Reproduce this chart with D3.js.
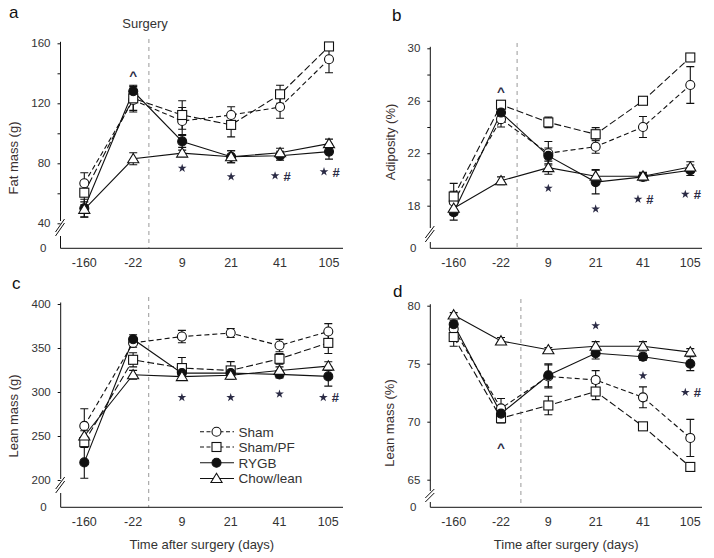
<!DOCTYPE html>
<html><head><meta charset="utf-8">
<script src="https://cdn.jsdelivr.net/npm/d3@7"></script>
<style>
html,body{margin:0;padding:0;background:#fff;}
svg{display:block;font-family:"Liberation Sans",Arial,sans-serif;}
</style></head>
<body>
<svg id="chart" width="714" height="558"></svg>
<script>
// ---------------- DATA ----------------
const categories = ["-160", "-22", "9", "21", "41", "105"];
const seriesNames = ["Sham", "Sham/PF", "RYGB", "Chow/lean"];

// a: Fat mass (g)
const fatSham      = [66.7, 122.2, 108.2, 112.2, 117.5, 149.4];
const fatShamErr   = [7, 8, 9, 5.5, 7.5, 9];
const fatShamPF    = [60.4, 123.3, 112.2, 105.6, 126.0, 157.9];
const fatShamPFErr = [8, 8, 9.5, 8, 6, 2];
const fatRYGB      = [50.0, 128.0, 94.6, 84.4, 85.0, 87.8];
const fatRYGBErr   = [6, 4, 4, 4, 3, 5];
const fatChow      = [49.3, 83.0, 86.8, 84.4, 87.0, 93.1];
const fatChowErr   = [5, 4, 2, 4, 3, 3];
const fatTicks = [40, 60, 80, 100, 120, 140, 160];
const fatTickLabels = [40, 80, 120, 160];
const fatNotes = [["-22", 140.9, "^"], ["9", 76.7, "*"], ["21", 71.1, "*"], ["41", 71.7, "* #"], ["105", 74.4, "* #"]];

// b: Adiposity (%)
const adiSham      = [18.3, 24.6, 22.0, 22.5, 24.0, 27.2];
const adiShamErr   = [0.8, 0.6, 0.9, 0.5, 0.8, 1.4];
const adiShamPF    = [18.7, 25.7, 24.35, 23.45, 26.0, 29.3];
const adiShamPFErr = [1.0, 0.3, 0.4, 0.5, 0.2, 0.3];
const adiRYGB      = [17.5, 25.1, 21.8, 19.8, 20.2, 20.7];
const adiRYGBErr   = [0.6, 0.5, 0.6, 0.9, 0.3, 0.4];
const adiChow      = [17.8, 19.9, 20.9, 20.25, 20.25, 20.95];
const adiChowErr   = [0.5, 0.3, 0.5, 0.5, 0.3, 0.4];
const adiTicks = [18, 20, 22, 24, 26, 28, 30];
const adiTickLabels = [18, 22, 26, 30];
const adiNotes = [["-22", 27.0, "^"], ["9", 19.33, "*"], ["21", 17.75, "*"], ["41", 18.5, "* #"], ["105", 18.87, "* #"]];

// c: Lean mass (g)
const lgSham      = [261.5, 355.8, 363.0, 367.0, 352.8, 368.7];
const lgShamErr   = [19.5, 5, 7, 5, 7, 9];
const lgShamPF    = [243.0, 336.6, 327.2, 324.5, 337.7, 355.8];
const lgShamPFErr = [6, 8, 12, 10, 6, 12];
const lgRYGB      = [220.0, 360.0, 321.5, 321.5, 320.0, 317.7];
const lgRYGBErr   = [18, 5, 3, 3, 4, 11];
const lgChow      = [250.0, 319.6, 317.5, 319.0, 324.5, 329.4];
const lgChowErr   = [6, 5, 4, 4, 4, 5];
const lgTicks = [200, 250, 300, 350, 400];
const lgTickLabels = [200, 250, 300, 350, 400];
const lgNotes = [["9", 293.7, "*"], ["21", 293.7, "*"], ["41", 297.7, "*"], ["105", 293.7, "* #"]];

// d: Lean mass (%)
const lpSham      = [78.0, 71.15, 73.9, 73.6, 72.1, 68.6];
const lpShamErr   = [0.5, 0.85, 1.0, 0.8, 0.9, 1.6];
const lpShamPF    = [77.3, 70.3, 71.4, 72.6, 69.6, 66.1];
const lpShamPFErr = [0.8, 0.4, 0.8, 0.7, 0.2, 0.3];
const lpRYGB      = [78.4, 70.7, 74.0, 75.9, 75.6, 75.0];
const lpRYGBErr   = [0.3, 0.5, 1.0, 0.5, 0.3, 0.6];
const lpChow      = [79.2, 76.96, 76.2, 76.5, 76.5, 76.0];
const lpChowErr   = [0.2, 0.3, 0.2, 0.4, 0.4, 0.3];
const lpTicks = [65, 70, 75, 80];
const lpTickLabels = [65, 70, 75, 80];
const lpNotes = [["-22", 68.08, "^"], ["21", 78.28, "*"], ["41", 73.97, "*"], ["105", 72.53, "* #"]];

// ---------------- LAYOUT ----------------
const svg = d3.select("#chart");
const ink = "#111", txt = "#333", noteCol = "#2b2b45";

const styles = [
  {dash: "5,3", shape: "circle", fill: "#fff"},
  {dash: "7,3", shape: "square", fill: "#fff"},
  {dash: null,  shape: "circle", fill: ink},
  {dash: null,  shape: "triangle", fill: "#fff"}
];

function marker(g, shape, fill, x, y) {
  if (shape === "circle") {
    g.append("circle").attr("cx", x).attr("cy", y).attr("r", 4.5)
      .attr("fill", fill).attr("stroke", ink).attr("stroke-width", 1.1);
  } else if (shape === "square") {
    g.append("rect").attr("x", x - 4.5).attr("y", y - 4.5).attr("width", 9).attr("height", 9)
      .attr("fill", fill).attr("stroke", ink).attr("stroke-width", 1.1);
  } else {
    const s = 5.3;
    g.append("path").attr("d", `M${x},${y - s}L${x + s * 1.05},${y + s * 0.75}L${x - s * 1.05},${y + s * 0.75}Z`)
      .attr("fill", fill).attr("stroke", ink).attr("stroke-width", 1.1);
  }
}

const panels = [
  {letter: "a", lx: 9, ly: 18, x0: 60.5, x1: 343, base: 248.3, c0: 84.3, c1: 329,
   dom: [40, 160], rng: [223.3, 43.3], ticks: fatTicks, labels: fatTickLabels,
   brk: [221, 236], frac: 0.32, dashTop: 39, ylab: "Fat mass (g)", ylx: 13, yly: 158,
   series: [[fatSham, fatShamErr], [fatShamPF, fatShamPFErr], [fatRYGB, fatRYGBErr], [fatChow, fatChowErr]],
   notes: fatNotes},
  {letter: "b", lx: 392, ly: 21, x0: 430.3, x1: 702, base: 248.3, c0: 453.7, c1: 690.3,
   dom: [18, 30], rng: [205.7, 48.3], ticks: adiTicks, labels: adiTickLabels,
   brk: [228, 242], frac: 0.34, dashTop: 43, ylab: "Adiposity (%)", ylx: 390, yly: 142,
   series: [[adiSham, adiShamErr], [adiShamPF, adiShamPFErr], [adiRYGB, adiRYGBErr], [adiChow, adiChowErr]],
   notes: adiNotes},
  {letter: "c", lx: 12, ly: 289, x0: 60.7, x1: 343, base: 507.3, c0: 84.3, c1: 328.3,
   dom: [200, 400], rng: [480, 304], ticks: lgTicks, labels: lgTickLabels,
   brk: [479, 493], frac: 0.32, dashTop: 297, ylab: "Lean mass (g)", ylx: 13, yly: 416,
   series: [[lgSham, lgShamErr], [lgShamPF, lgShamPFErr], [lgRYGB, lgRYGBErr], [lgChow, lgChowErr]],
   notes: lgNotes, xlab: true},
  {letter: "d", lx: 393, ly: 297, x0: 430.3, x1: 702, base: 507.3, c0: 453.7, c1: 690.3,
   dom: [65, 80], rng: [479.7, 305.7], ticks: lpTicks, labels: lpTickLabels,
   brk: [491, 502], frac: 0.42, dashTop: 299, ylab: "Lean mass (%)", ylx: 389, yly: 423,
   series: [[lpSham, lpShamErr], [lpShamPF, lpShamPFErr], [lpRYGB, lpRYGBErr], [lpChow, lpChowErr]],
   notes: lpNotes, xlab: true}
];

panels.forEach(p => {
  const g = svg.append("g");
  const x = d3.scalePoint().domain(categories).range([p.c0, p.c1]).padding(0);
  const y = d3.scaleLinear().domain(p.dom).range(p.rng);

  g.append("text").attr("x", p.lx).attr("y", p.ly).attr("font-size", 17).attr("fill", ink).text(p.letter);

  const sx = x("-22") + p.frac * x.step();
  g.append("line").attr("x1", sx).attr("x2", sx).attr("y1", p.dashTop).attr("y2", p.base)
    .attr("stroke", "#999").attr("stroke-width", 1).attr("stroke-dasharray", "4,4");

  const ax = d3.axisLeft(y).tickValues(p.ticks).tickSize(3).tickPadding(7)
    .tickFormat(v => p.labels.includes(v) ? String(v) : "");
  const ag = g.append("g").attr("transform", `translate(${p.x0},0)`).call(ax);
  ag.select(".domain").remove();
  ag.selectAll(".tick line").attr("stroke", ink);
  ag.selectAll(".tick text").attr("font-size", 11.5).attr("fill", txt)
    .attr("font-family", "'Liberation Sans', Arial, sans-serif");

  const topY = y(p.dom[1]) - 1.5;
  g.append("path").attr("d", `M${p.x0},${topY}L${p.x0},${p.brk[0]}`).attr("stroke", ink).attr("fill", "none");
  g.append("path").attr("d", `M${p.x0},${p.brk[1]}L${p.x0},${p.base}L${p.x1},${p.base}`).attr("stroke", ink).attr("fill", "none");
  const bh = p.brk[1] - p.brk[0];
  [0, 4].forEach(o => {
    g.append("line").attr("x1", p.x0 - 5).attr("y1", p.brk[0] + bh - 4 + o)
      .attr("x2", p.x0 + 4).attr("y2", p.brk[0] - 2 + o).attr("stroke", ink).attr("stroke-width", 1);
  });
  g.append("text").attr("x", p.x0 - 14).attr("y", p.base).attr("dy", "0.35em").attr("text-anchor", "end")
    .attr("font-size", 11.5).attr("fill", txt).text("0");

  g.selectAll(".xl").data(categories).enter().append("text")
    .attr("x", d => x(d)).attr("y", p.base + 19).attr("text-anchor", "middle")
    .attr("font-size", 12.5).attr("fill", txt).text(d => d);

  g.append("text").attr("transform", `translate(${p.ylx},${p.yly}) rotate(-90)`)
    .attr("text-anchor", "middle").attr("dy", "0.35em").attr("font-size", 13).attr("fill", "#3a3030").text(p.ylab);

  if (p.xlab) {
    g.append("text").attr("x", (p.x0 + p.x1) / 2).attr("y", 549).attr("text-anchor", "middle")
      .attr("font-size", 13).attr("fill", txt).text("Time after surgery (days)");
  }

  const line = d3.line().x((d, i) => x(categories[i])).y(d => y(d));
  p.series.forEach((s, si) => {
    g.append("path").attr("d", line(s[0])).attr("fill", "none").attr("stroke", ink).attr("stroke-width", 1.1)
      .attr("stroke-dasharray", styles[si].dash);
  });
  p.series.forEach((s, si) => {
    s[0].forEach((v, i) => {
      const cx = x(categories[i]), e = s[1][i];
      const yt = y(v + e), yb = y(v - e);
      g.append("path").attr("d", `M${cx},${yt}L${cx},${yb}M${cx - 4},${yt}L${cx + 4},${yt}M${cx - 4},${yb}L${cx + 4},${yb}`)
        .attr("stroke", ink).attr("stroke-width", 1.1).attr("fill", "none");
    });
  });
  p.series.forEach((s, si) => {
    s[0].forEach((v, i) => marker(g, styles[si].shape, styles[si].fill, x(categories[i]), y(v)));
  });

  // annotations: "*" drawn as small filled stars, "#" and "^" as text
  p.notes.forEach(n => {
    const cx = x(n[0]), cy = y(n[1]);
    const parts = n[2].split(" ");
    parts.forEach((t, k) => {
      const dx = parts.length > 1 ? (k === 0 ? -5 : 7) : 0;
      if (t === "*") {
        g.append("path").attr("d", d3.symbol(d3.symbolStar, 24)())
          .attr("transform", `translate(${cx + dx},${cy})`).attr("fill", noteCol);
      } else {
        g.append("text").attr("x", cx + dx).attr("y", cy)
          .attr("dy", t === "^" ? "0.6em" : "0.38em")
          .attr("text-anchor", "middle").attr("font-size", t === "^" ? 13.5 : 13)
          .attr("font-weight", "bold").attr("fill", noteCol).text(t);
      }
    });
  });

  if (p.letter === "a") {
    g.append("text").attr("x", 145).attr("y", 28).attr("text-anchor", "middle")
      .attr("font-size", 13).attr("fill", txt).text("Surgery");
  }

  if (p.letter === "c") {
    const rows = [431.7, 447, 462.8, 478.5];
    seriesNames.forEach((name, i) => {
      const ly = rows[i];
      g.append("line").attr("x1", 200).attr("x2", 234).attr("y1", ly).attr("y2", ly)
        .attr("stroke", ink).attr("stroke-width", 1.1).attr("stroke-dasharray", styles[i].dash ? "4,2.5" : null);
      marker(g, styles[i].shape, styles[i].fill, 216.5, ly);
      g.append("text").attr("x", 238.5).attr("y", ly).attr("dy", "0.36em").attr("font-size", 13.5)
        .attr("fill", txt).text(name);
    });
  }
});
</script>
</body></html>
